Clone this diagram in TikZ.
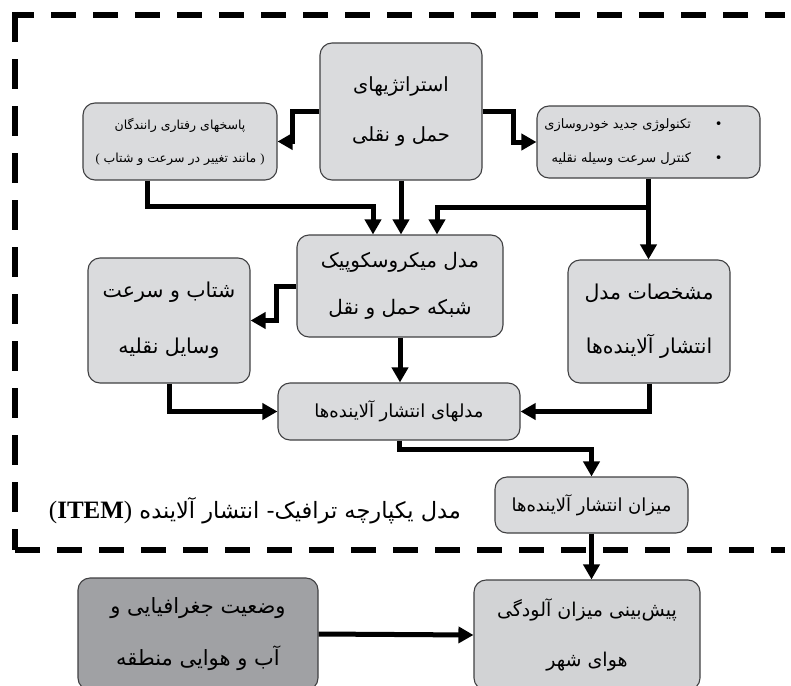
\documentclass[tikz,border=0pt]{standalone}
\usepackage{fontspec}
\setmainfont{Liberation Serif}
\newfontfamily\farsi[Script=Arabic]{DejaVu Sans}
\TeXXeTstate=1
\usetikzlibrary{arrows.meta,calc,positioning}
\definecolor{boxgray}{RGB}{218,219,221}
\definecolor{geogray}{RGB}{160,161,164}
\definecolor{foregray}{RGB}{210,211,213}
\definecolor{edgegray}{RGB}{64,64,66}
\newcommand{\fa}[1]{\beginR #1\endR}
\tikzset{
  >={Triangle[length=15pt,width=16pt]},
  block/.style={draw=edgegray,line width=1.1pt,rounded corners=12pt,fill=boxgray,align=center,inner sep=0pt},
  flow/.style={->,line width=5pt,line join=miter},
  frame/.style={line width=6pt},
}

\begin{document}
\begin{tikzpicture}[x=1pt,y=-1pt]
\useasboundingbox (0,0) rectangle (791,685);

% dashed frame of the ITEM model
\coordinate (tl) at (15,15);
\coordinate (tr) at (785,15);
\coordinate (bl) at (15,550);
\coordinate (br) at (785,550);
\draw[frame,dash pattern=on 25pt off 17pt,dash phase=3pt] ($(tl)+(-3,0)$) -- (tr);
\draw[frame,dash pattern=on 30pt off 17pt] ($(tl)+(0,-3)$) -- (bl);
\draw[frame,dash pattern=on 25pt off 17pt] (bl) -- (br);

\node[block,minimum width=162,minimum height=137,font=\farsi\fontsize{19.5}{50}\selectfont] (strat) at (401,111.5)
  {\fa{استراتژیهای}\\\fa{حمل و نقلی}};
\node[block,minimum width=194,minimum height=77,font=\farsi\fontsize{12.5}{33}\selectfont] (resp) at (180,141.5)
  {\fa{پاسخهای رفتاری رانندگان}\\{\rmfamily(} \fa{مانند تغییر در سرعت و شتاب} {\rmfamily)}};
\node[block,minimum width=223,minimum height=72,align=right,font=\farsi\fontsize{13}{34}\selectfont] (tech) at (648.5,142)
  {\fa{\textbullet\hspace{24pt}تکنولوژی جدید خودروسازی}\rule{30pt}{0pt}\\\fa{\textbullet\hspace{24pt}کنترل سرعت وسیله نقلیه}\rule{30pt}{0pt}};
\node[block,minimum width=206,minimum height=102,font=\farsi\fontsize{20}{47}\selectfont] (micro) at (400,286)
  {\fa{مدل میکروسکوپیک}\\\fa{شبکه حمل و نقل}};
\node[block,minimum width=162,minimum height=125,font=\farsi\fontsize{20.5}{56}\selectfont] (accel) at (169,320.5)
  {\fa{شتاب و سرعت}\\\fa{وسایل نقلیه}};
\node[block,minimum width=162,minimum height=123,font=\farsi\fontsize{20.5}{54}\selectfont] (spec) at (649,321.5)
  {\fa{مشخصات مدل}\\\fa{انتشار آلاینده‌ها}};
\node[block,minimum width=242,minimum height=57,font=\farsi\fontsize{18}{20}\selectfont] (emis) at (399,411.5)
  {\fa{مدلهای انتشار آلاینده‌ها}};
\node[block,minimum width=193,minimum height=56,font=\farsi\fontsize{18}{20}\selectfont] (level) at (591.5,505)
  {\fa{میزان انتشار آلاینده‌ها}};
\node[font=\farsi\fontsize{22.5}{24}\selectfont] (itemlabel) at (255,511)
  {{\rmfamily\fontsize{25}{26}\selectfont(\textbf{ITEM})}\ \fa{مدل یکپارچه ترافیک- انتشار آلاینده}};
\node[block,fill=geogray,minimum width=240,minimum height=112,font=\farsi\fontsize{21}{52}\selectfont] (geo) at (198,634)
  {\fa{وضعیت جغرافیایی و}\\\fa{آب و هوایی منطقه}};
\node[block,fill=foregray,minimum width=226,minimum height=110,font=\farsi\fontsize{19}{50}\selectfont] (fore) at (587,635)
  {\fa{پیش‌بینی میزان آلودگی}\\\fa{هوای شهر}};

\draw[flow] (strat.west) -- ++(-27,0) |- (resp.east);
\draw[flow] (strat.east) -- ++(31,0) |- (tech.west);
\draw[flow] ($(resp.south)+(-33,0)$) |- ($(micro.north)+(-27,-28)$) -- ($(micro.north)+(-27,0)$);
\draw[flow] (strat.south) -- (strat.south |- micro.north);
\draw[flow] (tech.south) -- (tech.south |- spec.north);
\draw[flow] ($(tech.south)+(0,29)$) -| ($(micro.north)+(37,0)$);
\draw[flow] (micro.west) -- ++(-20,0) |- (accel.east);
\draw[flow] (micro.south) -- (micro.south |- emis.north);
\draw[flow] (accel.south) |- (emis.west);
\draw[flow] (spec.south) |- (emis.east);
\draw[flow] (emis.south) -- ++(0,9) -| (level.north);
\draw[flow] (level.south) -- (level.south |- fore.north);
\draw[flow] (geo.east) -- (fore.west);

\end{tikzpicture}
\end{document}
